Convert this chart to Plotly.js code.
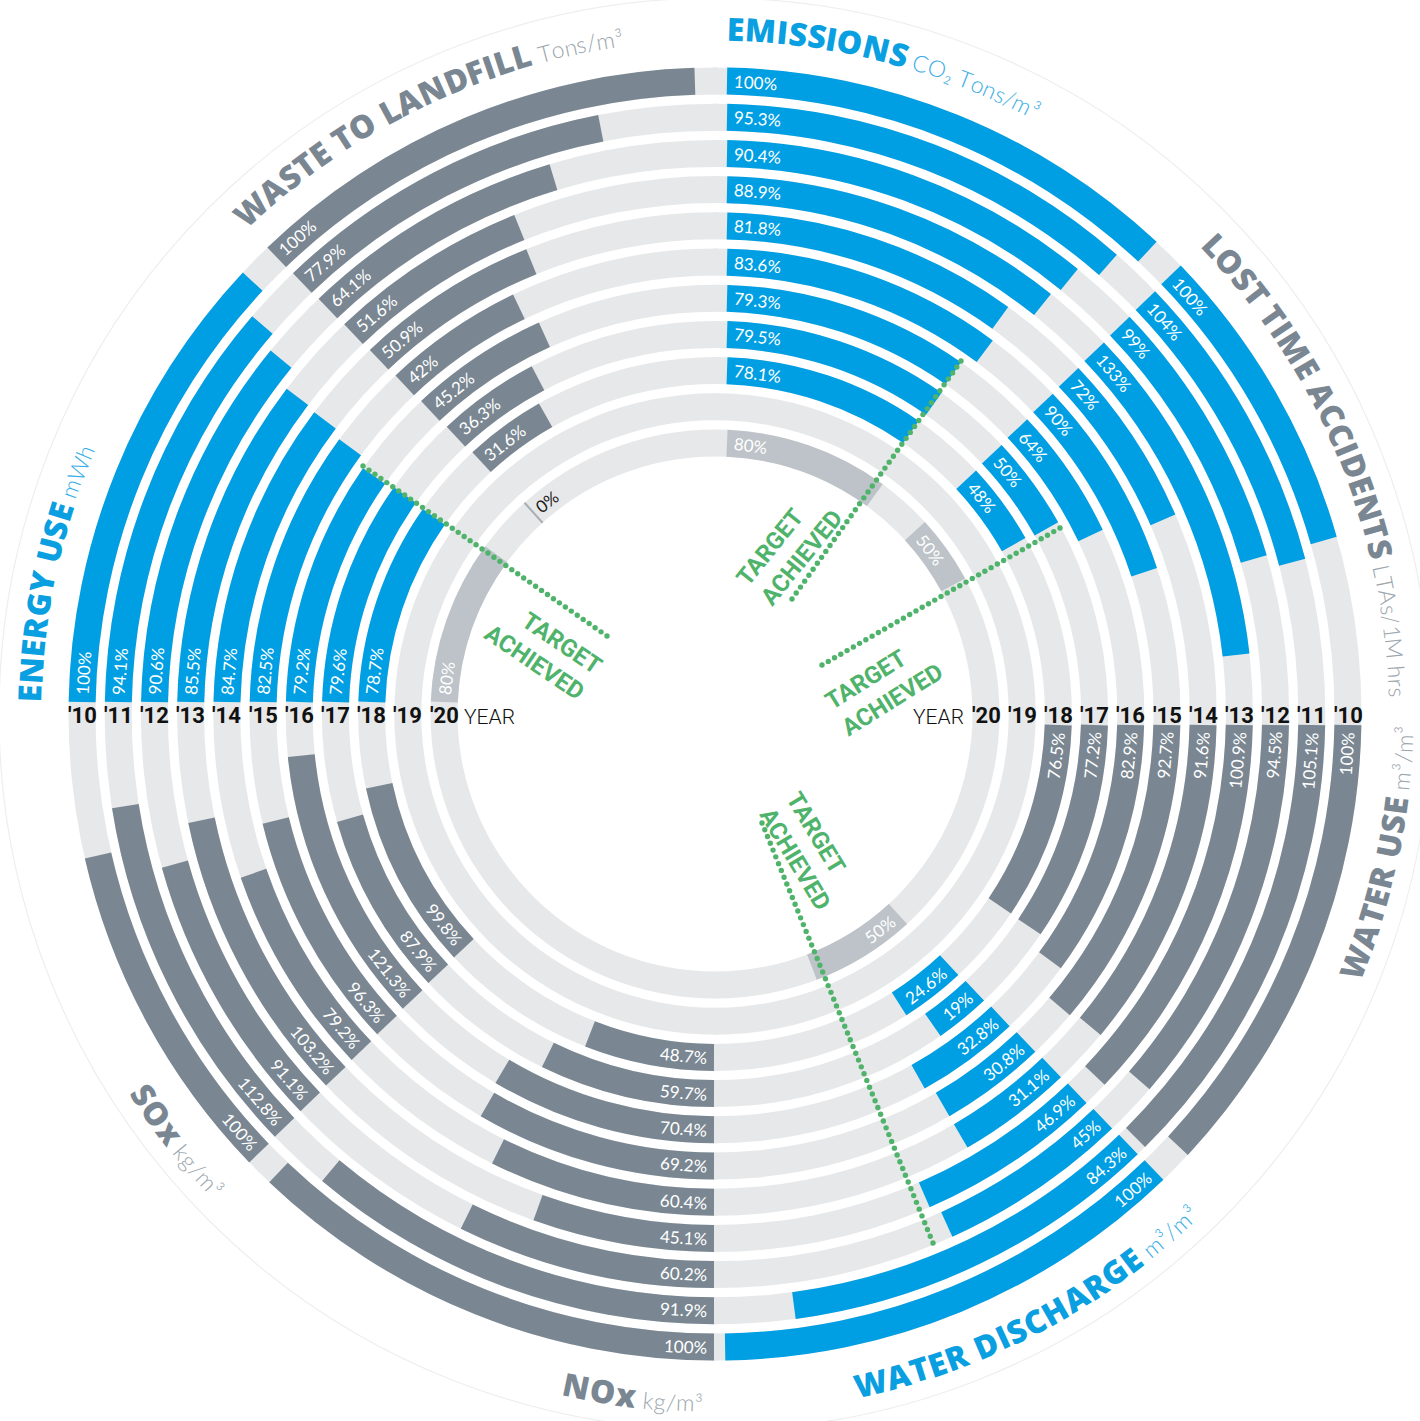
<!DOCTYPE html>
<html><head><meta charset="utf-8">
<script src="https://cdn.plot.ly/plotly-3.0.1.min.js"></script>
<style>html,body{margin:0;padding:0;background:#fff;} #chart{width:1420px;height:1421px;}</style>
</head><body><div id="chart"></div>
<script>
// ---------------- DATA ----------------
const years = ["'10","'11","'12","'13","'14","'15","'16","'17","'18","'19","'20"];
const sectorTitles = ["EMISSIONS","LOST TIME ACCIDENTS","WATER USE","WATER DISCHARGE","NOx","SOx","ENERGY USE","WASTE TO LANDFILL"];
const sectorUnits = ["CO₂ Tons/m³","LTAs/1M hrs","m³/m³","m³/m³","kg/m³","kg/m³","mWh","Tons/m³"];
const emissions       = [100, 95.3, 90.4, 88.9, 81.8, 83.6, 79.3, 79.5, 78.1];
const lostTime        = [100, 104, 99, 133, 72, 90, 64, 50, 48];
const waterUse        = [100, 105.1, 94.5, 100.9, 91.6, 92.7, 82.9, 77.2, 76.5];
const waterDischarge  = [100, 84.3, 45, 46.9, 31.1, 30.8, 32.8, 19, 24.6];
const nox             = [100, 91.9, 60.2, 45.1, 60.4, 69.2, 70.4, 59.7, 48.7];
const sox             = [100, 112.8, 91.1, 103.2, 79.2, 96.3, 121.3, 87.9, 99.8];
const energyUse       = [100, 94.1, 90.6, 85.5, 84.7, 82.5, 79.2, 79.6, 78.7];
const wasteToLandfill = [100, 77.9, 64.1, 51.6, 50.9, 42, 45.2, 36.3, 31.6];
const targetSectorIndex = [0, 1, 3, 6, 7];   // 2020 targets (innermost ring)
const targetValues      = [80, 50, 50, 80, 0];
const targetLabel = "TARGET<br>ACHIEVED";

const sectorValues = [emissions, lostTime, waterUse, waterDischarge, nox, sox, energyUse, wasteToLandfill];

// ---------------- STYLE ----------------
const BLUE='#009fe3', BLUE_T='#0a9fe0', BLUE_L='#3aaee6', GRAY='#7a8792', GRAY_L='#9ba5ac',
      RING='#e7e8e9', TGT='#bdc3c8', GREEN='#4fb36b';
const W=1420, H=1421, CX=715, CY=714, R0=633, DR=36.2, TH=27, PRADIUS=700;
const SECTOR_START=[0,45,90,135,180,225,270,315];
const DEG_PER_PCT=[0.42,0.28,0.42,0.43,0.435,0.31,0.42,0.42];
const EDGE_GAP=[12,12,11,12,1,12,12,13];
const BAR_COLOR=[BLUE,BLUE,GRAY,BLUE,GRAY,GRAY,BLUE,GRAY];
const TITLE_COLOR=[BLUE_T,GRAY,GRAY,BLUE_T,GRAY,GRAY,BLUE_T,GRAY];
const UNIT_COLOR=[BLUE_L,GRAY_L,GRAY_L,BLUE_L,GRAY_L,GRAY_L,BLUE_L,GRAY_L];

const F_PCT={family:"Lato, 'Open Sans', sans-serif", size:17, weight:400};
const F_YEAR={family:"Roboto, 'Open Sans', sans-serif", size:22, weight:700};
const F_YEARW={family:"Roboto, 'Open Sans', sans-serif", size:21, weight:300};
const F_TITLE={family:"'Open Sans', 'Noto Sans', sans-serif", size:32, weight:800};
const F_UNIT={family:"Lato, 'Open Sans', sans-serif", size:23, weight:300};
const F_GREEN={family:"Roboto, 'Open Sans', sans-serif", size:24, weight:700};

const RAD=180/Math.PI;
const cv=document.createElement('canvas'); const ctx=cv.getContext('2d');
function cssFont(f){return f.weight+' '+f.size+'px '+f.family;}
function measure(txt,f){ctx.font=cssFont(f); return ctx.measureText(txt).width;}
function ringR(i){return R0-i*DR;}
function polarPx(r,th){const t=th/RAD; return [CX+r*Math.sin(t), CY-r*Math.cos(t)];}
function paper(px,py){return [px/W,(H-py)/H];}
function norm(t){return ((t%360)+360)%360;}
function isTop(t){t=norm(t); return t>=270||t<90;}
function readAngle(t){t=norm(t); let a=isTop(t)?t:t-180; if(a>180)a-=360; return a;}
function startAngle(s,r){return SECTOR_START[s]+Math.asin(EDGE_GAP[s]/r)*RAD;}
function fmt(v){return String(v)+'%';}

function draw(){
  const traces=[]; const annotations=[]; const shapes=[];

  // background rings (full circles)
  const bgT=[],bgW=[],bgB=[],bgR=[];
  for(let i=0;i<years.length;i++){ [90,270].forEach(t=>{bgT.push(t);bgW.push(180.4);bgB.push(ringR(i)-TH/2);bgR.push(TH);}); }
  traces.push({type:'barpolar',theta:bgT,width:bgW,base:bgB,r:bgR,marker:{color:RING,line:{width:0}},hoverinfo:'skip'});

  function label(text,s,i,color){
    const r=ringR(i); const w=measure(text,F_PCT);
    const th=startAngle(s,r)+(7+w/2)/r*RAD;
    const p=paper(...polarPx(r,th));
    annotations.push({x:p[0],y:p[1],xref:'paper',yref:'paper',text:text,showarrow:false,
      textangle:readAngle(th),xanchor:'center',yanchor:'middle',font:Object.assign({color:color},F_PCT)});
  }

  // data bars
  sectorValues.forEach((vals,s)=>{
    const theta=[],width=[],base=[],r=[];
    vals.forEach((v,i)=>{const rr=ringR(i); const st=startAngle(s,rr); const span=v*DEG_PER_PCT[s];
      theta.push(st+span/2); width.push(span); base.push(rr-TH/2); r.push(TH);});
    traces.push({type:'barpolar',theta,width,base,r,marker:{color:BAR_COLOR[s],line:{width:0}},hoverinfo:'skip'});
    vals.forEach((v,i)=>label(fmt(v),s,i,'#ffffff'));
  });

  // 2020 targets (innermost ring)
  {
    const i=years.length-1; const rr=ringR(i);
    const theta=[],width=[],base=[],r=[],cols=[];
    targetValues.forEach((v,j)=>{const s=targetSectorIndex[j]; const st=startAngle(s,rr);
      const span=Math.max(v*DEG_PER_PCT[s], 2/rr*RAD);
      theta.push(st+span/2); width.push(span); base.push(rr-TH/2); r.push(TH); cols.push(v===0?'#a7afb5':TGT);});
    traces.push({type:'barpolar',theta,width,base,r,marker:{color:cols,line:{width:0}},hoverinfo:'skip'});
    targetValues.forEach((v,j)=>label(fmt(v),targetSectorIndex[j],i,v===0?'#1a1a1a':'#ffffff'));
  }

  // year labels
  years.forEach((y,i)=>{
    [CX+ringR(i),CX-ringR(i)].forEach(px=>{const p=paper(px,CY+2);
      annotations.push({x:p[0],y:p[1],xref:'paper',yref:'paper',text:y,showarrow:false,xanchor:'center',yanchor:'middle',font:Object.assign({color:'#111'},F_YEAR)});});
  });
  {const pr=paper(966,CY+3), pl=paper(462,CY+3);
   annotations.push({x:pr[0],y:pr[1],xref:'paper',yref:'paper',text:'YEAR',showarrow:false,xanchor:'right',yanchor:'middle',font:Object.assign({color:'#111'},F_YEARW)});
   annotations.push({x:pl[0],y:pl[1],xref:'paper',yref:'paper',text:'YEAR',showarrow:false,xanchor:'left',yanchor:'middle',font:Object.assign({color:'#111'},F_YEARW)});}

  // curved titles
  sectorTitles.forEach((title,s)=>{
    const top=isTop(SECTOR_START[s]+10);
    const R=686;
    const segs=[{text:title,f:F_TITLE,ls:0.6,color:TITLE_COLOR[s],r:R},
                {text:' '+sectorUnits[s],f:F_UNIT,ls:0.3,color:UNIT_COLOR[s],r:top?683:689}];
    const chars=[]; let total=0;
    segs.forEach(sg=>{for(const ch of sg.text){const w=measure(ch,sg.f)+sg.ls; chars.push({ch,w,sg,s0:total}); total+=w;}});
    const a0=SECTOR_START[s]+Math.asin(12/R)*RAD;
    chars.forEach(c=>{
      if(c.ch===' ')return;
      const th=top? a0+(c.s0+c.w/2)/R*RAD : a0+(total-c.s0-c.w/2)/R*RAD;
      const p=paper(...polarPx(c.sg.r,th));
      annotations.push({x:p[0],y:p[1],xref:'paper',yref:'paper',text:c.ch,showarrow:false,textangle:readAngle(th),
        xanchor:'center',yanchor:'middle',font:Object.assign({color:c.sg.color},c.sg.f)});
    });
  });

  // target achieved callouts (dotted leader + text)
  const leaders=[[961,361,792,599],[1060,528,822,665],[363,466,607,636],[762,823,933,1243]];
  const callouts=[[790,548,-51,'left'],[884,686,-32,'left'],[543,650,34,'right'],[809,851,59,'left']];
  leaders.forEach(L=>{const len=Math.hypot(L[2]-L[0],L[3]-L[1]); const n=Math.round(len/7.3);
    for(let k=0;k<=n;k++){const px=L[0]+(L[2]-L[0])*k/n, py=L[1]+(L[3]-L[1])*k/n; const rr=2.7;
      shapes.push({type:'circle',xref:'paper',yref:'paper',x0:(px-rr)/W,x1:(px+rr)/W,y0:(H-py-rr)/H,y1:(H-py+rr)/H,
        fillcolor:GREEN,line:{width:0},layer:'above'});}});
  callouts.forEach(c=>{const p=paper(c[0],c[1]);
    annotations.push({x:p[0],y:p[1],xref:'paper',yref:'paper',text:targetLabel,showarrow:false,textangle:c[2],align:c[3],
      xanchor:'center',yanchor:'middle',font:Object.assign({color:GREEN},F_GREEN)});});

  // faint outer circle
  shapes.push({type:'circle',xref:'paper',yref:'paper',x0:(CX-716)/W,x1:(CX+716)/W,y0:(H-CY-716)/H,y1:(H-CY+716)/H,
    line:{color:'#eeeeee',width:1.2},fillcolor:'rgba(0,0,0,0)',layer:'below'});

  const layout={width:W,height:H,margin:{l:0,r:0,t:0,b:0},paper_bgcolor:'#ffffff',showlegend:false,
    polar:{domain:{x:[(CX-PRADIUS)/W,(CX+PRADIUS)/W],y:[(H-CY-PRADIUS)/H,(H-CY+PRADIUS)/H]},
      bgcolor:'rgba(0,0,0,0)',barmode:'overlay',bargap:0,hole:0,
      radialaxis:{visible:false,range:[0,PRADIUS],autorange:false,showgrid:false},
      angularaxis:{visible:false,rotation:90,direction:'clockwise',thetaunit:'degrees',showgrid:false}},
    annotations:annotations,shapes:shapes};
  Plotly.newPlot('chart',traces,layout,{displayModeBar:false,staticPlot:true});
}

const fl=[F_PCT,F_YEAR,F_YEARW,F_TITLE,F_UNIT,F_GREEN].map(f=>document.fonts.load(cssFont(f),'0123AaYE%³₂').catch(()=>null));
Promise.all(fl).then(draw,draw);
</script>
</body></html>
